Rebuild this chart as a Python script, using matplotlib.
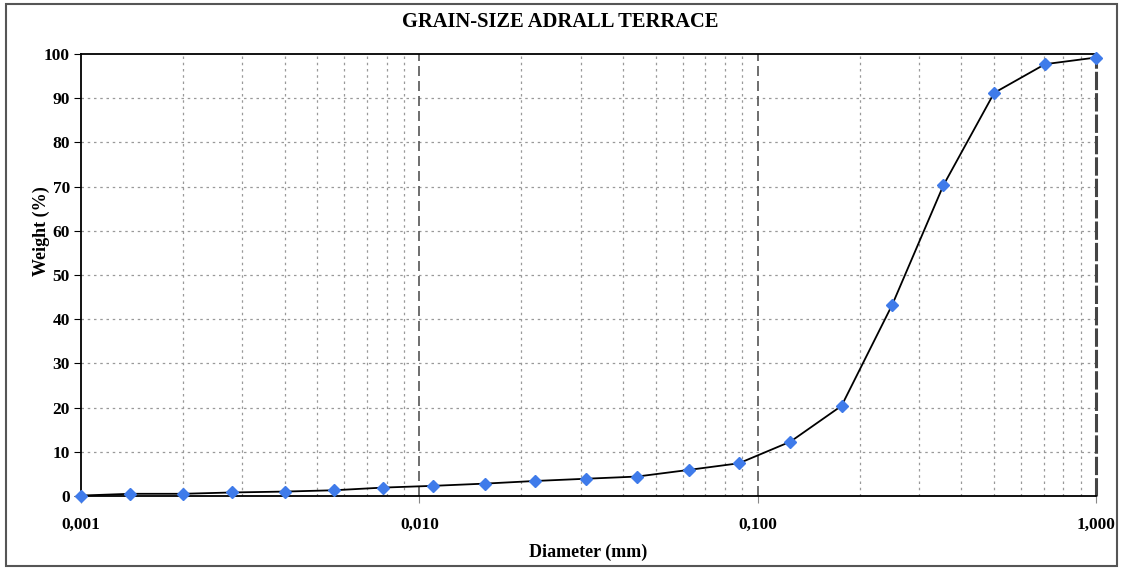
import numpy as np
import matplotlib.pyplot as plt
from matplotlib.patches import Rectangle
from matplotlib.ticker import FixedLocator, NullFormatter

# grain-size data (phi-like sequence of sieve diameters)
diameter = [0.001, 0.0014, 0.002, 0.0028, 0.004, 0.0056, 0.0078, 0.011, 0.0156,
            0.022, 0.031, 0.044, 0.0625, 0.088, 0.125, 0.177, 0.25, 0.354,
            0.5, 0.707, 1.0]
weight = [0.1, 0.5, 0.5, 0.8, 1.0, 1.3, 1.9, 2.3, 2.8, 3.4, 3.9, 4.4, 5.9, 7.4,
          12.3, 20.4, 43.3, 70.3, 91.2, 97.7, 99.2]
xticks = [0.001, 0.01, 0.1, 1.0]
xtick_labels = ['0,001', '0,010', '0,100', '1,000']

plt.rcParams['font.family'] = ['Liberation Serif', 'DejaVu Serif']
plt.rcParams['font.weight'] = 'bold'

fig = plt.figure(figsize=(11.21, 5.70), dpi=100)
ax = fig.add_axes([81/1121, 1 - 496/570, (1096 - 81)/1121, (496 - 54)/570])

# outer frame
fig.patches.append(Rectangle((6/1121, 4/570), 1111/1121, 562/570,
                             transform=fig.transFigure, fill=False,
                             edgecolor='#555555', linewidth=1.5))

ax.set_xscale('log')
ax.set_xlim(0.001, 1.0)
ax.set_ylim(0, 100)

# grid
minors = [m * 10.0**e for e in (-3, -2, -1) for m in range(2, 10)]
for xv in minors:
    ax.axvline(xv, color='#999999', linestyle=(0, (2, 3)), linewidth=0.9, zorder=1)
for yv in range(10, 100, 10):
    ax.axhline(yv, color='#999999', linestyle=(0, (2, 3)), linewidth=0.9, zorder=1)
for xv in [0.01, 0.1]:
    ax.axvline(xv, color='#555555', linestyle=(0, (6, 3)), linewidth=1.2, zorder=1)
ax.axvline(1.0, color='#444444', linestyle=(0, (6, 1)), linewidth=2.2, zorder=1,
           clip_on=False)

ax.plot(diameter, weight, color='black', linewidth=1.3, marker='D',
        markersize=6.5, markerfacecolor='#3F7BEA', markeredgecolor='#3F7BEA',
        zorder=3, clip_on=False)

ax.xaxis.set_major_locator(FixedLocator(xticks))
ax.set_xticklabels(xtick_labels)
ax.xaxis.set_minor_formatter(NullFormatter())
ax.tick_params(axis='x', which='minor', length=0)
ax.tick_params(axis='x', which='major', length=5, direction='out', pad=10,
               labelsize=12.5, color='#888888')
ax.set_yticks(range(0, 101, 10))
ax.tick_params(axis='y', length=5, direction='out', pad=3, labelsize=12.5)

for s in ['left', 'bottom', 'top']:
    ax.spines[s].set_color('black')
    ax.spines[s].set_linewidth(1.3)
ax.spines['right'].set_visible(False)

fig.text(0.5, 1 - 22/570, 'GRAIN-SIZE ADRALL TERRACE', fontsize=14.8,
         fontweight='bold', ha='center', va='center')
ax.set_xlabel('Diameter (mm)', fontsize=13, fontweight='bold', labelpad=8)
ax.set_ylabel('Weight (%)', fontsize=13, fontweight='bold')
ax.yaxis.set_label_coords(-0.031, 0.6)

fig.savefig('out.png', dpi=100)
